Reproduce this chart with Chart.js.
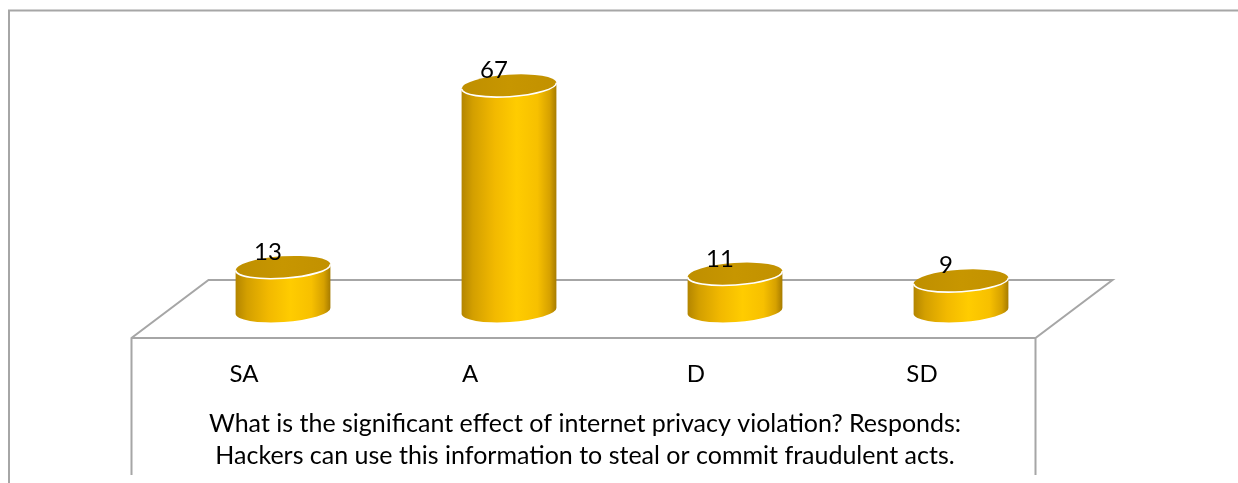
<!DOCTYPE html>
<html>
<head>
<meta charset="utf-8">
<script src="https://cdn.jsdelivr.net/npm/chart.js@4"></script>
<style>
  html, body { margin: 0; padding: 0; background: #ffffff; }
  canvas { display: block; }
</style>
</head>
<body>
<canvas id="chart" width="1238" height="483"></canvas>
<script>
// Survey responses
const categories = ['SA', 'A', 'D', 'SD'];
const responses = [13, 67, 11, 9];
const titleLines = [
  'What is the significant effect of internet privacy violation? Responds:',
  'Hackers can use this information to steal or commit fraudulent acts.'
];

const FONT = 'Lato, "Open Sans", sans-serif';
const LINE = '#a6a6a6';

// Draws the 3D floor, the cylinders and all text on top of the bar layout
const cylinderPlugin = {
  id: 'cylinders',
  beforeDatasetsDraw(chart) {
    const ctx = chart.ctx;
    const area = chart.chartArea;
    const y0 = chart.scales.y.getPixelForValue(0) - 1;
    const dx = 38.5, dyBack = 30, dyFront = 28;
    ctx.save();
    ctx.strokeStyle = LINE;
    ctx.lineWidth = 2;
    // outer frame (top and left)
    ctx.beginPath();
    ctx.moveTo(9, 483);
    ctx.lineTo(9, 10.5);
    ctx.lineTo(1238, 10.5);
    ctx.stroke();
    // floor parallelogram
    const fl = area.left - dx, fr = area.right - dx;
    const bl = area.left + dx, br = area.right + dx;
    const yf = y0 + dyFront, yb = y0 - dyBack;
    ctx.beginPath();
    ctx.moveTo(fl, 475);
    ctx.lineTo(fl, yf);
    ctx.lineTo(bl, yb);
    ctx.lineTo(br, yb);
    ctx.lineTo(fr, yf);
    ctx.lineTo(fl, yf);
    ctx.moveTo(fr, yf);
    ctx.lineTo(fr, 475);
    ctx.stroke();
    ctx.restore();
  },
  afterDatasetsDraw(chart) {
    const ctx = chart.ctx;
    const meta = chart.getDatasetMeta(0);
    const rot = -0.065;
    const ry = 11;
    ctx.save();
    meta.data.forEach((bar, i) => {
      const cx = bar.x;
      const rx = 47.5;
      const yTop = bar.y;
      const yBot = bar.base;
      // body
      const g = ctx.createLinearGradient(cx - rx, 0, cx + rx, 0);
      g.addColorStop(0, '#b38500');
      g.addColorStop(0.12, '#d39f00');
      g.addColorStop(0.35, '#f2b900');
      g.addColorStop(0.58, '#ffcc00');
      g.addColorStop(0.8, '#f7c000');
      g.addColorStop(0.93, '#d6a100');
      g.addColorStop(1, '#a67b00');
      ctx.beginPath();
      ctx.ellipse(cx, yTop, rx, ry, rot, Math.PI, 0, true);
      ctx.ellipse(cx, yBot, rx, ry, rot, 0, Math.PI, false);
      ctx.closePath();
      ctx.fillStyle = g;
      ctx.fill();
      // top cap
      const tg = ctx.createLinearGradient(cx - rx, 0, cx + rx, 0);
      tg.addColorStop(0, '#bf8f00');
      tg.addColorStop(0.5, '#c79600');
      tg.addColorStop(1, '#c29100');
      ctx.beginPath();
      ctx.ellipse(cx, yTop, rx, ry, rot, 0, Math.PI * 2);
      ctx.fillStyle = tg;
      ctx.fill();
      ctx.beginPath();
      ctx.ellipse(cx, yTop, rx, ry, rot, Math.PI, 0, true);
      ctx.strokeStyle = '#ffffff';
      ctx.lineWidth = 1.6;
      ctx.stroke();
      // value label
      ctx.fillStyle = '#000000';
      ctx.font = '24px ' + FONT;
      ctx.textAlign = 'center';
      ctx.textBaseline = 'middle';
      ctx.fillText(String(responses[i]), cx - 15, yTop - 15);
      // category label on the front edge
      ctx.fillText(categories[i], cx - 39, 374);
    });
    // axis title
    ctx.font = '25px ' + FONT;
    ctx.textAlign = 'center';
    ctx.textBaseline = 'middle';
    titleLines.forEach((t, k) => ctx.fillText(t, 585, 424 + k * 32));
    ctx.restore();
  }
};

new Chart(document.getElementById('chart'), {
  type: 'bar',
  data: {
    labels: categories,
    datasets: [{
      data: responses,
      backgroundColor: 'rgba(0,0,0,0)',
      borderWidth: 0
    }]
  },
  options: {
    responsive: false,
    animation: false,
    devicePixelRatio: 1,
    layout: { padding: { left: 170, right: 164, top: 42, bottom: 172 } },
    plugins: { legend: { display: false }, tooltip: { enabled: false } },
    scales: {
      x: { display: false },
      y: { display: false, min: 0, max: 80 }
    }
  },
  plugins: [cylinderPlugin]
});
</script>
</body>
</html>
